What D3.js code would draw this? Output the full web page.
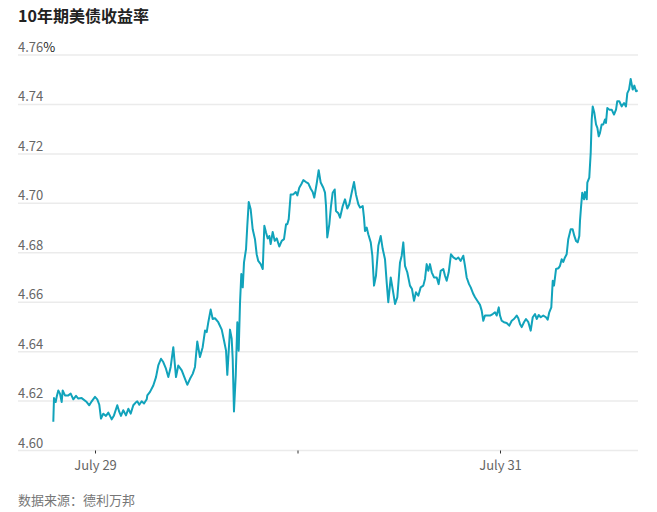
<!DOCTYPE html>
<meta charset="utf-8">
<style>
    body { margin: 0; background: #fff; }
    text { font-family: "Noto Sans CJK SC", "Noto Sans", sans-serif; }
</style>
<body>
    <div id="chart"></div>
</body>
<script src="https://cdn.jsdelivr.net/npm/d3@7"></script>
<script>
    var svg_width = 657,
        svg_height = 512;

    var title = "10年期美债收益率";
    var source = "数据来源：德利万邦";

    // hours counted from July 29 00:00
    var hours = [-4.94,-4.86,-4.66,-4.54,-4.35,-4.15,-3.95,-3.83,-3.56,-3.16,-2.88,-2.57,-2.25,-1.98,-1.58,-0.98,-0.68,-0.39,0,0.27,
        0.51,0.71,0.98,1.30,1.58,1.78,1.98,2.25,2.64,2.88,3.08,3.35,3.67,3.95,4.23,4.54,4.82,5.01,5.25,5.53,
        5.81,6.13,6.20,6.52,6.91,7.23,7.50,7.82,8.09,8.41,8.69,8.97,9.28,9.60,9.87,10.28,10.67,10.94,11.26,11.58,
        11.85,12.12,12.44,
        12.76,13.04,13.24,13.43,13.71,13.95,14.22,14.61,15.02,15.29,15.53,15.68,15.85,16.00,16.20,16.32,16.47,
        16.68,16.87,17.03,17.19,17.34,17.51,17.66,17.90,18.05,18.22,18.45,18.69,18.96,19.16,19.35,19.64,19.88,20.07,20.27,20.47,
        20.66,20.82,21.06,21.30,21.54,21.84,22.13,22.40,22.64,22.79,22.96,23.19,23.50,23.79,23.98,24.21,24.45,24.69,25.01,25.28,
        25.57,25.80,25.99,26.28,26.51,26.75,27.06,27.26,27.38,27.53,27.77,27.97,28.17,28.41,28.56,28.84,29.04,29.36,29.63,29.90,
        30.14,
        30.42,30.70,30.93,31.21,31.41,31.73,31.88,32.00,32.20,32.39,32.68,32.87,33.07,33.30,33.58,33.86,34.10,34.37,34.57,34.76,
        35.05,35.28,35.56,35.83,36.15,36.35,36.54,36.74,37.01,37.33,37.57,37.81,38.04,38.32,38.60,38.91,39.11,39.31,39.50,39.70,
        39.91,40.18,40.50,40.73,40.97,41.28,41.48,41.68,41.92,42.19,42.47,42.79,43.06,43.34,43.65,43.85,44.05,44.33,44.53,44.84,
        45.04,45.31,45.63,45.83,46.02,46.22,46.50,46.82,47.14,47.41,47.61,47.85,48.00,48.20,48.47,48.79,49.10,49.39,49.66,49.98,
        50.17,50.37,
        50.57,50.84,51.08,51.36,51.64,51.88,52.15,52.35,52.59,52.83,53.13,53.45,53.65,53.84,54.08,54.25,54.40,54.64,54.91,55.11,
        55.31,55.50,55.70,55.90,56.09,56.38,56.61,56.81,57.01,57.21,57.40,57.48,57.60,57.75,57.96,58.07,58.28,58.35,58.58,58.75,
        58.87,58.99,59.18,59.38,59.54,59.70,59.85,60.05,60.24,60.44,60.56,60.72,60.95,61.24,61.51,61.75,61.90,62.14,62.42,62.70,
        62.93,63.09,63.29,63.49,63.73,63.92,64.12,64.32];

    var yields = [4.6116,4.6212,4.6196,4.6217,4.6243,4.6230,4.6196,4.6243,4.6223,4.6223,4.6230,4.6207,4.6221,4.6210,4.6212,4.6196,4.6183,4.6199,4.6217,4.6207,
        4.6185,4.6129,4.6149,4.6140,4.6153,4.6140,4.6126,4.6142,4.6183,4.6156,4.6140,4.6163,4.6142,4.6169,4.6149,4.6183,4.6194,4.6199,4.6185,4.6199,
        4.6190,4.6207,4.6223,4.6237,4.6263,4.6297,4.6344,4.6371,4.6358,4.6331,4.6297,4.6338,4.6418,4.6297,4.6344,4.6324,4.6290,4.6266,4.6290,4.6310,
        4.6338,4.6441,4.6378,
        4.6418,4.6485,4.6479,4.6519,4.6570,4.6532,4.6535,4.6519,4.6489,4.6445,4.6404,4.6306,4.6404,4.6489,4.6452,4.6371,4.6158,
        4.6304,4.6519,4.6404,4.6600,4.6714,4.6660,4.6761,4.6815,4.6909,4.7005,4.6976,4.6895,4.6855,4.6794,4.6767,4.6754,4.6734,4.6909,4.6882,4.6858,
        4.6868,4.6835,4.6884,4.6848,4.6858,4.6825,4.6848,4.6855,4.6915,4.6915,4.6936,4.7036,4.7036,4.7046,4.7032,4.7063,4.7077,4.7094,4.7086,4.7081,
        4.7059,4.7046,4.7023,4.7081,4.7134,4.7084,4.7063,4.7043,4.6989,4.6862,4.6915,4.6989,4.7043,4.7056,4.6969,4.6960,4.6942,4.6989,4.7016,4.6979,
        4.6996,
        4.7043,4.7086,4.7036,4.6996,4.6983,4.6989,4.6942,4.6888,4.6902,4.6875,4.6842,4.6788,4.6667,4.6707,4.6828,4.6868,4.6815,4.6774,4.6680,4.6600,
        4.6700,4.6653,4.6593,4.6620,4.6761,4.6788,4.6842,4.6747,4.6721,4.6667,4.6653,4.6606,4.6640,4.6626,4.6660,4.6667,4.6694,4.6754,4.6727,4.6754,
        4.6721,4.6700,4.6700,4.6673,4.6727,4.6734,4.6707,4.6687,4.6721,4.6794,4.6781,4.6774,4.6781,4.6767,4.6788,4.6747,4.6700,4.6673,4.6660,4.6633,
        4.6620,4.6606,4.6589,4.6566,4.6525,4.6546,4.6546,4.6546,4.6552,4.6559,4.6546,4.6579,4.6546,4.6525,4.6519,4.6516,4.6505,4.6525,4.6532,4.6546,
        4.6535,4.6512,
        4.6499,4.6519,4.6532,4.6519,4.6485,4.6539,4.6552,4.6532,4.6548,4.6539,4.6546,4.6539,4.6529,4.6559,4.6579,4.6687,4.6667,4.6734,4.6737,4.6747,
        4.6774,4.6763,4.6781,4.6794,4.6855,4.6895,4.6895,4.6868,4.6848,4.6842,4.6868,4.6929,4.6983,4.7043,4.7016,4.7046,4.7016,4.7084,4.7104,4.7204,
        4.7339,4.7392,4.7366,4.7319,4.7305,4.7271,4.7285,4.7319,4.7319,4.7339,4.7325,4.7386,4.7379,4.7379,4.7359,4.7379,4.7413,4.7413,4.7392,4.7406,
        4.7392,4.7446,4.7460,4.7503,4.7460,4.7476,4.7453,4.7457];

    var y_ticks = [4.60, 4.62, 4.64, 4.66, 4.68, 4.70, 4.72, 4.74, 4.76];
    var x_tick_days = [29, 30, 31];
    var x_tick_labels = ["July 29", "", "July 31"];

    var day0 = new Date(2024, 6, 29);
    function at_hour(h) { return new Date(day0.getTime() + h * 3600 * 1000); }

    var data = d3.zip(hours, yields).map(function(d) {
        return { t: at_hour(d[0]), v: d[1] };
    });

    var left = 18, right = 638;

    var x = d3.scaleTime()
        .domain([day0, new Date(2024, 6, 31)])
        .range([95, 500]);

    var y = d3.scaleLinear()
        .domain([4.60, 4.76])
        .range([450.5, 55]);

    var svg = d3.select("#chart").append("svg")
        .attr("width", svg_width)
        .attr("height", svg_height);

    svg.append("text")
        .attr("x", 18)
        .attr("y", 22)
        .style("font-size", "16px")
        .style("font-weight", "bold")
        .style("fill", "#222")
        .text(title);

    // gridlines + labels sitting on top of each line
    var grid = svg.append("g").attr("class", "grid");
    grid.selectAll("line")
        .data(y_ticks)
        .enter()
            .append("line")
            .attr("x1", left)
            .attr("x2", right)
            .attr("y1", function(d) { return y(d); })
            .attr("y2", function(d) { return y(d); })
            .style("stroke", "#ebebeb")
            .style("stroke-width", "1.5px");

    var ylab = grid.selectAll("text")
        .data(y_ticks)
        .enter()
            .append("text")
            .attr("x", left)
            .attr("y", function(d) { return y(d) - 3; })
            .style("font-size", "13px")
            .style("fill", "#666")
            .text(function(d) { return d.toFixed(2); });
    ylab.filter(function(d, i) { return i == y_ticks.length - 1; })
        .append("tspan")
        .style("fill", "#222")
        .text("%");

    var xAxis = d3.axisBottom(x)
        .tickValues(x_tick_days.map(function(d) { return new Date(2024, 6, d); }))
        .tickSize(3)
        .tickPadding(7)
        .tickFormat(function(d, i) { return x_tick_labels[i]; });

    var gx = svg.append("g")
        .attr("transform", "translate(0," + y(4.60) + ")")
        .call(xAxis);
    gx.select(".domain").remove();
    gx.selectAll(".tick line").style("stroke", "#333");
    gx.selectAll(".tick text")
        .style("font-family", "\"Noto Sans CJK SC\", sans-serif")
        .style("font-size", "13px")
        .style("fill", "#666");

    var line = d3.line()
        .x(function(d) { return x(d.t); })
        .y(function(d) { return y(d.v); });

    svg.append("path")
        .datum(data)
        .attr("d", line)
        .style("fill", "none")
        .style("stroke", "#11a3bb")
        .style("stroke-width", "2px")
        .style("stroke-linejoin", "round");

    svg.append("text")
        .attr("x", 18)
        .attr("y", 505)
        .style("font-size", "13px")
        .style("fill", "#777")
        .text(source);
</script>
